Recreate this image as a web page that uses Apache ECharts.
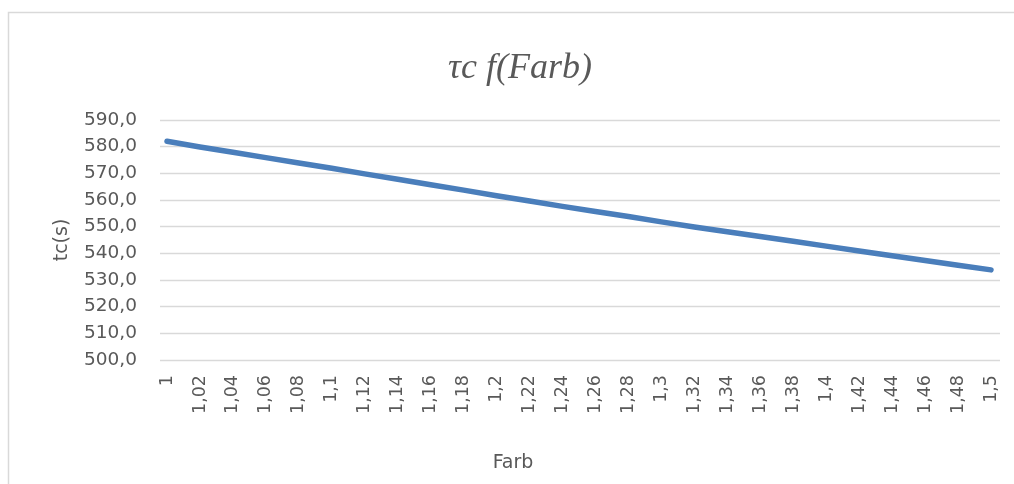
<!DOCTYPE html>
<html>
<head>
<meta charset="utf-8">
<script src="https://cdn.jsdelivr.net/npm/echarts@6/dist/echarts.min.js"></script>
<style>
html,body{margin:0;padding:0;background:#fff;}
#chart{width:1014px;height:484px;}
</style>
</head>
<body>
<div id="chart"></div>
<script>
const categories = ["1","1,02","1,04","1,06","1,08","1,1","1,12","1,14","1,16","1,18","1,2","1,22","1,24","1,26","1,28","1,3","1,32","1,34","1,36","1,38","1,4","1,42","1,44","1,46","1,48","1,5"];
const tcValues = [582.0,579.9,577.9,575.9,573.9,571.9,569.8,567.8,565.7,563.7,561.6,559.6,557.6,555.7,553.8,551.8,549.9,548.1,546.3,544.5,542.7,540.9,539.1,537.3,535.5,533.8];
const yMin = 500, yMax = 590, yStep = 10;
const titleText = "\u03c4c f(Farb)";
const yName = "tc(s)";
const xName = "Farb";

const txt = '#595959';
const font = 'DejaVu Sans';
const chart = echarts.init(document.getElementById('chart'), null, {renderer:'canvas'});
chart.setOption({
  animation:false,
  backgroundColor:'#fff',
  graphic:[{type:'rect', silent:true, shape:{x:8.5,y:12.5,width:1100,height:600}, style:{fill:'none', stroke:'#d9d9d9', lineWidth:1.5}}],
  title:{text:titleText, left:515, top:46, textAlign:'center',
    textStyle:{fontFamily:'Liberation Serif', fontStyle:'italic', fontWeight:'normal', fontSize:36, color:txt}},
  grid:[
    {left:160, right:14, top:120, bottom:124},
    {left:167, right:23, top:120, bottom:124}
  ],
  xAxis:[
    {gridIndex:0, type:'category', data:categories, show:false},
    {gridIndex:1, type:'category', data:categories, boundaryGap:false,
      axisLine:{show:false}, axisTick:{show:false},
      axisLabel:{interval:0, rotate:90, margin:15, color:txt, fontFamily:font, fontSize:17.5},
      name:xName, nameLocation:'middle', nameGap:94,
      nameTextStyle:{color:txt, fontFamily:font, fontSize:19, padding:[0,132,0,0]}}
  ],
  yAxis:[
    {gridIndex:0, type:'value', min:yMin, max:yMax, interval:yStep,
      axisLine:{show:false}, axisTick:{show:false},
      splitLine:{lineStyle:{color:'#d9d9d9', width:1.3}},
      axisLabel:{margin:23, color:txt, fontFamily:font, fontSize:18.5,
        formatter:v=>v.toFixed(1).replace('.', ',')},
      name:yName, nameLocation:'middle', nameGap:88,
      nameTextStyle:{color:txt, fontFamily:font, fontSize:19}},
    {gridIndex:1, type:'value', min:yMin, max:yMax, interval:yStep, show:false}
  ],
  series:[{type:'line', xAxisIndex:1, yAxisIndex:1, data:tcValues, showSymbol:false,
    lineStyle:{color:'#4a7ebb', width:5.5, cap:'round', join:'round'}}]
});
</script>
</body>
</html>
